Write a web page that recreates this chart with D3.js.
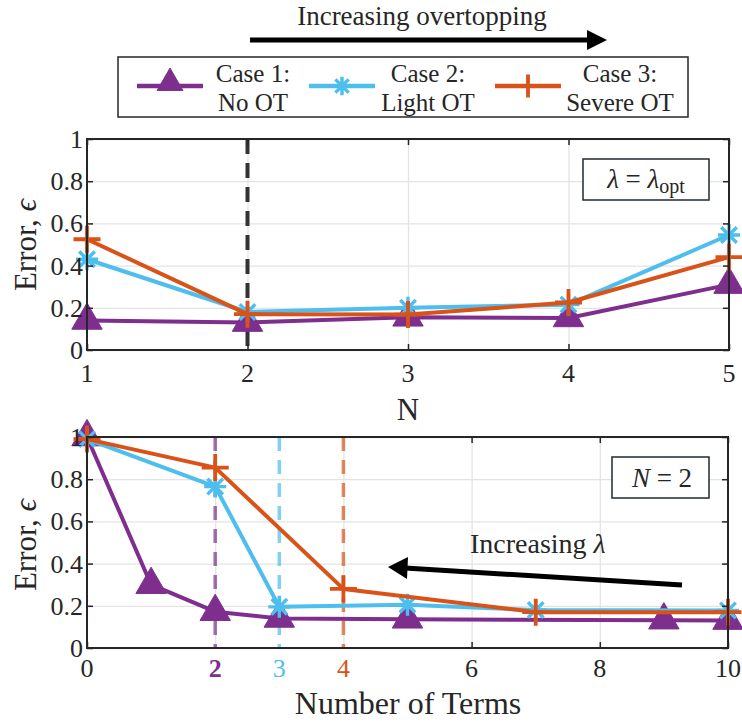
<!DOCTYPE html>
<html>
<head>
<meta charset="utf-8">
<script src="https://cdn.jsdelivr.net/npm/d3@7"></script>
<style>
  html, body { margin: 0; padding: 0; background: #fff; }
</style>
</head>
<body>
<svg id="chart" width="742" height="726"></svg>
<script>
// ---- data ----
const caseNames = ["Case 1:", "Case 2:", "Case 3:"];
const caseSubs = ["No OT", "Light OT", "Severe OT"];
const caseColors = ["#7E2F8E", "#4DBEEE", "#D95319"];
const caseMarkers = ["triangle", "asterisk", "plus"];

// top panel: error versus N at the optimal lambda
const nValues = [1, 2, 3, 4, 5];
const topCase1 = [0.14, 0.13, 0.155, 0.152, 0.31];
const topCase2 = [0.43, 0.18, 0.20, 0.215, 0.545];
const topCase3 = [0.525, 0.17, 0.168, 0.225, 0.44];
const topOptimalN = 2;

// bottom panel: error versus number of terms at N = 2
const termsCase1 = [0, 1, 2, 3, 5, 9, 10];
const botCase1 = [1.0, 0.30, 0.172, 0.14, 0.136, 0.132, 0.13];
const termsCase2 = [0, 2, 3, 5, 7, 10];
const botCase2 = [0.99, 0.765, 0.195, 0.205, 0.18, 0.178];
const termsCase3 = [0, 2, 4, 7, 10];
const botCase3 = [0.99, 0.855, 0.28, 0.17, 0.17];
const chosenTerms = [2, 3, 4];

const yTicks = [0, 0.2, 0.4, 0.6, 0.8, 1];
const topXTicks = [1, 2, 3, 4, 5];
const botXTicks = [0, 2, 3, 4, 6, 8, 10];

// ---- drawing ----
const FONT = "'Liberation Serif', 'DejaVu Serif', 'Times New Roman', serif";
const svg = d3.select("#chart").attr("font-family", FONT);
const axisColor = "#262626";
const gridColor = "#e3e3e3";

function txt(parent) {
  return parent.append("text").attr("font-family", FONT).attr("fill", axisColor);
}

function markerPath(kind, s) {
  const h = s / 2;
  if (kind === "plus") return `M${-h},0L${h},0M0,${-h}L0,${h}`;
  if (kind === "asterisk") {
    const d = h * Math.SQRT1_2;
    return `M${-h},0L${h},0M0,${-h}L0,${h}M${-d},${-d}L${d},${d}M${-d},${d}L${d},${-d}`;
  }
  return d3.symbol(d3.symbolTriangle, s)();
}

function drawMarker(g, kind, color, x, y, scale = 1) {
  if (kind === "triangle") {
    g.append("path").attr("d", markerPath(kind, 400 * scale * scale)).attr("transform", `translate(${x},${y})`)
      .attr("fill", color).attr("stroke", color).attr("stroke-width", 1);
  } else {
    const s = (kind === "plus" ? 27 : 22) * scale;
    g.append("path").attr("d", markerPath(kind, s)).attr("transform", `translate(${x},${y})`)
      .attr("fill", "none").attr("stroke", color).attr("stroke-width", kind === "plus" ? 3.8 : 3.4);
  }
}

function panel(opts) {
  const { x, y, left, right, top, bottom } = opts;
  const g = svg.append("g");
  g.append("g").attr("transform", `translate(0,${bottom})`)
    .call(d3.axisBottom(x).tickValues(opts.gridX).tickSize(-(bottom - top)).tickFormat(""))
    .call(s => s.select(".domain").remove())
    .call(s => s.selectAll("line").attr("stroke", gridColor).attr("stroke-width", 1.3));
  g.append("g").attr("transform", `translate(${left},0)`)
    .call(d3.axisLeft(y).tickValues(yTicks).tickSize(-(right - left)).tickFormat(""))
    .call(s => s.select(".domain").remove())
    .call(s => s.selectAll("line").attr("stroke", gridColor).attr("stroke-width", 1.3));
  return g;
}

function frame(g, opts) {
  const { x, y, left, right, top, bottom } = opts;
  const tick = 6;
  const bx = g.append("g").attr("transform", `translate(0,${bottom})`)
    .call(d3.axisBottom(x).tickValues(opts.tickX).tickSize(-tick).tickFormat(""));
  const tx = g.append("g").attr("transform", `translate(0,${top})`)
    .call(d3.axisTop(x).tickValues(opts.tickX).tickSize(-tick).tickFormat(""));
  const ly = g.append("g").attr("transform", `translate(${left},0)`)
    .call(d3.axisLeft(y).tickValues(yTicks).tickSize(-tick).tickFormat(""));
  const ry = g.append("g").attr("transform", `translate(${right},0)`)
    .call(d3.axisRight(y).tickValues(yTicks).tickSize(-tick).tickFormat(""));
  [bx, tx, ly, ry].forEach(a => {
    a.select(".domain").remove();
    a.selectAll("line").attr("stroke", axisColor).attr("stroke-width", 1.5);
  });
  g.append("rect").attr("x", left).attr("y", top).attr("width", right - left).attr("height", bottom - top)
    .attr("fill", "none").attr("stroke", axisColor).attr("stroke-width", 2);

  const lab = g.append("g");
  yTicks.forEach(d => {
    txt(lab).attr("x", left - 4).attr("y", y(d) + 9).attr("text-anchor", "end")
      .attr("font-size", 26).text(d3.format("~g")(d));
  });
}

function series(g, x, y, xs, ys, color, kind) {
  const pts = xs.map((v, i) => [x(v), y(ys[i])]);
  g.append("path").attr("d", d3.line()(pts)).attr("fill", "none")
    .attr("stroke", color).attr("stroke-width", 4).attr("stroke-linejoin", "round");
  pts.forEach(p => drawMarker(g, kind, color, p[0], p[1]));
}

function errorLabel(cy) {
  const t = txt(svg).attr("transform", `translate(36,${cy}) rotate(-90)`)
    .attr("text-anchor", "middle").attr("font-size", 31);
  t.append("tspan").text("Error, ");
  t.append("tspan").attr("font-style", "italic").text("ϵ");
}

// ---- header: arrow and legend ----
txt(svg).attr("x", 422).attr("y", 25).attr("text-anchor", "middle")
  .attr("font-size", 27).text("Increasing overtopping");
svg.append("line").attr("x1", 250).attr("x2", 590).attr("y1", 40).attr("y2", 40)
  .attr("stroke", "#000").attr("stroke-width", 5);
svg.append("path").attr("d", "M607,40L587,30L587,50Z").attr("fill", "#000");

const legend = svg.append("g");
legend.append("rect").attr("x", 118).attr("y", 57).attr("width", 570).attr("height", 60)
  .attr("fill", "#fff").attr("stroke", axisColor).attr("stroke-width", 1.5);
const legendLineX = [137, 309, 495];
const legendTextX = [253, 428, 620];
caseNames.forEach((name, i) => {
  const lx = legendLineX[i];
  legend.append("line").attr("x1", lx).attr("x2", lx + 66).attr("y1", 86).attr("y2", 86)
    .attr("stroke", caseColors[i]).attr("stroke-width", 4.5);
  drawMarker(legend, caseMarkers[i], caseColors[i], lx + 33, caseMarkers[i] === "triangle" ? 83 : 86, 0.85);
  txt(legend).attr("x", legendTextX[i]).attr("y", 82).attr("text-anchor", "middle")
    .attr("font-size", 25).text(name);
  txt(legend).attr("x", legendTextX[i]).attr("y", 111).attr("text-anchor", "middle")
    .attr("font-size", 25).text(caseSubs[i]);
});

// ---- top panel ----
const T = { left: 87, right: 729, top: 139, bottom: 350 };
T.x = d3.scaleLinear().domain([1, 5]).range([T.left, T.right]);
T.y = d3.scaleLinear().domain([0, 1]).range([T.bottom, T.top]);
T.gridX = topXTicks; T.tickX = topXTicks;
const gTop = panel(T);
gTop.append("line").attr("x1", T.x(topOptimalN)).attr("x2", T.x(topOptimalN))
  .attr("y1", T.top).attr("y2", T.bottom).attr("stroke", "#333").attr("stroke-width", 4)
  .attr("stroke-dasharray", "15,9");
series(gTop, T.x, T.y, nValues, topCase1, caseColors[0], "triangle");
series(gTop, T.x, T.y, nValues, topCase2, caseColors[1], "asterisk");
series(gTop, T.x, T.y, nValues, topCase3, caseColors[2], "plus");
frame(gTop, T);
topXTicks.forEach(d => {
  txt(gTop).attr("x", T.x(d)).attr("y", 382).attr("text-anchor", "middle")
    .attr("font-size", 26).text(d);
});
txt(svg).attr("x", 408).attr("y", 420).attr("text-anchor", "middle")
  .attr("font-size", 31).text("N");
errorLabel(245);

const boxTop = svg.append("g");
boxTop.append("rect").attr("x", 583).attr("y", 159).attr("width", 126).attr("height", 41)
  .attr("fill", "#fff").attr("stroke", "#1f2a30").attr("stroke-width", 1.5);
const lt = txt(boxTop).attr("x", 646).attr("y", 188).attr("text-anchor", "middle")
  .attr("font-size", 27);
lt.append("tspan").attr("font-style", "italic").text("λ");
lt.append("tspan").text(" = ");
lt.append("tspan").attr("font-style", "italic").text("λ");
lt.append("tspan").attr("font-size", 20).attr("dy", 5).text("opt");

// ---- bottom panel ----
const B = { left: 87, right: 728, top: 437, bottom: 648 };
B.x = d3.scaleLinear().domain([0, 10]).range([B.left, B.right]);
B.y = d3.scaleLinear().domain([0, 1]).range([B.bottom, B.top]);
B.gridX = [2, 4, 6, 8]; B.tickX = [0, 6, 8, 10];
const gBot = panel(B);
chosenTerms.forEach((t, i) => {
  gBot.append("line").attr("x1", B.x(t)).attr("x2", B.x(t))
    .attr("y1", B.top).attr("y2", B.bottom).attr("stroke", caseColors[i]).attr("stroke-opacity", 0.7)
    .attr("stroke-width", 3.5).attr("stroke-dasharray", "14,9");
});
series(gBot, B.x, B.y, termsCase1, botCase1, caseColors[0], "triangle");
series(gBot, B.x, B.y, termsCase2, botCase2, caseColors[1], "asterisk");
series(gBot, B.x, B.y, termsCase3, botCase3, caseColors[2], "plus");
frame(gBot, B);
const tickColor = d => d === 2 ? caseColors[0] : d === 3 ? caseColors[1] : d === 4 ? caseColors[2] : axisColor;
botXTicks.forEach(d => {
  txt(gBot).attr("x", B.x(d)).attr("y", 677).attr("text-anchor", "middle")
    .attr("font-size", 26).attr("font-weight", d === 2 ? "bold" : "normal")
    .attr("fill", tickColor(d)).text(d);
});
txt(svg).attr("x", 408).attr("y", 714).attr("text-anchor", "middle")
  .attr("font-size", 32).text("Number of Terms");
errorLabel(545);

const boxBot = svg.append("g");
boxBot.append("rect").attr("x", 612).attr("y", 457).attr("width", 97).attr("height", 41)
  .attr("fill", "#fff").attr("stroke", "#1f2a30").attr("stroke-width", 1.5);
const nt = txt(boxBot).attr("x", 662).attr("y", 487).attr("text-anchor", "middle")
  .attr("font-size", 27);
nt.append("tspan").attr("font-style", "italic").text("N");
nt.append("tspan").text(" = 2");

// arrow annotation
txt(svg).attr("x", 470).attr("y", 553).attr("font-size", 28)
  .call(t => { t.append("tspan").text("Increasing "); t.append("tspan").attr("font-style", "italic").text("λ"); });
svg.append("line").attr("x1", 682).attr("y1", 585).attr("x2", 405).attr("y2", 568)
  .attr("stroke", "#000").attr("stroke-width", 5);
svg.append("path").attr("d", "M388,567L408,557L407,579Z").attr("fill", "#000");
</script>
</body>
</html>
